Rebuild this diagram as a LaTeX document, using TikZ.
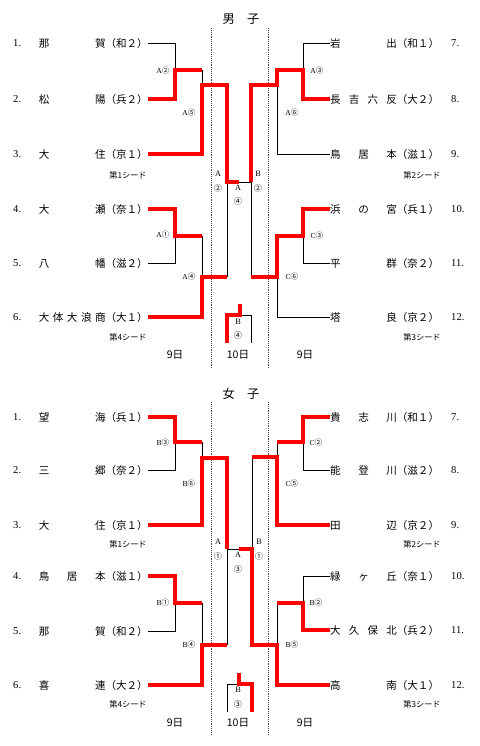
\documentclass[tikz,border=0pt]{standalone}
\usepackage{fontspec}
\setmainfont{Liberation Serif}
\newfontfamily\jp{Noto Sans CJK JP}
\newcommand{\jname}[1]{\makebox[2cm][s]{#1}}

\begin{document}
\begin{tikzpicture}[x=0.03cm,y=-0.03cm,
  win/.style={red,line width=3.3pt},
  lose/.style={line width=0.8pt},
  entl/.style={anchor=east,inner sep=0pt,font=\jp\fontsize{9}{9}\selectfont},
  entr/.style={anchor=west,inner sep=0pt,font=\jp\fontsize{9}{9}\selectfont},
  num/.style={anchor=west,inner sep=0pt,font=\fontsize{9}{9}\selectfont},
  mlab/.style={inner sep=0pt,font=\fontsize{6.5}{6.5}\selectfont},
  clab/.style={inner sep=0pt,align=center,font=\fontsize{7}{12.5}\selectfont},
  seed/.style={inner sep=0pt,font=\jp\fontsize{7}{7}\selectfont},
  day/.style={inner sep=0pt,font=\jp\fontsize{9}{9}\selectfont},
  ttl/.style={inner sep=0pt,font=\jp\fontsize{10.5}{10.5}\selectfont},
  sep/.style={densely dotted,line width=0.6pt,black!70}]
  \useasboundingbox (0,0) rectangle (480,746);

  % boys
  \node[ttl] (mt) at (241,19) {男　子};
  \draw[sep] (211,28) -- (211,368);
  \draw[sep] (268,28) -- (268,368);

  \node[num] (mn1) at (13,43) {1.};
  \node[num] (mn2) at (13,99) {2.};
  \node[num] (mn3) at (13,154) {3.};
  \node[num] (mn4) at (13,209) {4.};
  \node[num] (mn5) at (13,263) {5.};
  \node[num] (mn6) at (13,317) {6.};
  \node[entl] (m1) at (148,43) {\jname{那 賀}（和２）};
  \node[entl] (m2) at (148,99) {\jname{松 陽}（兵２）};
  \node[entl] (m3) at (148,154) {\jname{大 住}（京１）};
  \node[entl] (m4) at (148,209) {\jname{大 瀬}（奈１）};
  \node[entl] (m5) at (148,263) {\jname{八 幡}（滋２）};
  \node[entl] (m6) at (148,317) {\jname{大 体 大 浪 商}（大１）};
  \node[entr] (m7) at (330,43) {\jname{岩 出}（和１）};
  \node[entr] (m8) at (330,99) {\jname{長 吉 六 反}（大２）};
  \node[entr] (m9) at (330,154) {\jname{鳥 居 本}（滋１）};
  \node[entr] (m10) at (330,209) {\jname{浜 の 宮}（兵１）};
  \node[entr] (m11) at (330,263) {\jname{平 群}（奈２）};
  \node[entr] (m12) at (330,317) {\jname{塔 良}（京２）};
  \node[num] (mn7) at (451,43) {7.};
  \node[num] (mn8) at (451,99) {8.};
  \node[num] (mn9) at (451,154) {9.};
  \node[num] (mn10) at (451,209) {10.};
  \node[num] (mn11) at (451,263) {11.};
  \node[num] (mn12) at (451,317) {12.};

  \coordinate (mA2) at (175,70);
  \coordinate (mA5t) at (202,70);
  \coordinate (mA5) at (202,85);
  \coordinate (mA1) at (175,236);
  \coordinate (mA4t) at (202,236);
  \coordinate (mA4) at (202,277);
  \coordinate (mL) at (227,182);
  \coordinate (mM) at (239,182);
  \coordinate (mR) at (251,182);
  \coordinate (mLs) at (227,277);
  \coordinate (mRs) at (251,277);
  \coordinate (mA3) at (303,70);
  \coordinate (mA6t) at (277,70);
  \coordinate (mA6) at (277,85);
  \coordinate (mC3) at (303,236);
  \coordinate (mC6t) at (277,236);
  \coordinate (mC6) at (277,277);
  \coordinate (m3t) at (240,304);
  \coordinate (m3j) at (240,315);
  \coordinate (m3l) at (227,343);
  \coordinate (m3r) at (251,343);

  \draw[lose] (m1.east) -| (mA2);
  \draw[lose] (mA5t) -- (mA5);
  \draw[lose] (m5.east) -| (mA1);
  \draw[lose] (mA4t) -- (mA4);
  \draw[lose] (mLs) -- (mL);
  \draw[lose] (mM) -- (mR);
  \draw[lose] (m7.west) -| (mA3);
  \draw[lose] (m9.west) -| (mA6);
  \draw[lose] (m11.west) -| (mC3);
  \draw[lose] (m12.west) -| (mC6);
  \draw[lose] (mRs) -- (mR);
  \draw[lose] (m3j) -| (m3r);
  \draw[win] (m2.east) -| (mA2) -- (mA5t);
  \draw[win] (m3.east) -| (mA5) -| (mL) -- (mM);
  \draw[win] (m4.east) -| (mA1) -- (mA4t);
  \draw[win] (m6.east) -| (mA4) -- (mLs);
  \draw[win] (m8.west) -| (mA3) -- (mA6t) -- (mA6) -| (mR);
  \draw[win] (m10.west) -| (mC3) -- (mC6t) -- (mC6) -- (mRs);
  \draw[win] (m3t) -- (m3j) -| (m3l);

  \node[mlab] (lmA2) at (163,71) {A{\jp ②}};
  \node[mlab] (lmA5) at (189,113) {A{\jp ⑤}};
  \node[mlab] (lmA1) at (163,235) {A{\jp ①}};
  \node[mlab] (lmA4) at (189,277) {A{\jp ④}};
  \node[mlab] (lmA3) at (317,71) {A{\jp ③}};
  \node[mlab] (lmA6) at (292,113) {A{\jp ⑥}};
  \node[mlab] (lmC3) at (317,236) {C{\jp ③}};
  \node[mlab] (lmC6) at (292,277) {C{\jp ⑥}};
  \node[clab] (cmA2) at (218,181.5) {A\\{\jp ②}};
  \node[clab] (cmB2) at (258,181.5) {B\\{\jp ②}};
  \node[clab] (cmA4) at (238,195) {A\\{\jp ④}};
  \node[clab] (cmB4) at (238,329) {B\\{\jp ④}};

  \node[seed] (ms1) at (128,175) {第1シード};
  \node[seed] (ms2) at (422,175) {第2シード};
  \node[seed] (ms4) at (128,337) {第4シード};
  \node[seed] (ms3) at (422,337) {第3シード};
  \node[day] (md1) at (175,355) {9日};
  \node[day] (md2) at (238,355) {10日};
  \node[day] (md3) at (305,355) {9日};

  % girls
  \node[ttl] (wt) at (241,394) {女　子};
  \draw[sep] (211,402) -- (211,735);
  \draw[sep] (268,402) -- (268,735);

  \node[num] (wn1) at (13,417) {1.};
  \node[num] (wn2) at (13,470) {2.};
  \node[num] (wn3) at (13,525) {3.};
  \node[num] (wn4) at (13,576) {4.};
  \node[num] (wn5) at (13,631) {5.};
  \node[num] (wn6) at (13,685) {6.};
  \node[entl] (w1) at (148,417) {\jname{望 海}（兵１）};
  \node[entl] (w2) at (148,470) {\jname{三 郷}（奈２）};
  \node[entl] (w3) at (148,525) {\jname{大 住}（京１）};
  \node[entl] (w4) at (148,576) {\jname{鳥 居 本}（滋１）};
  \node[entl] (w5) at (148,631) {\jname{那 賀}（和２）};
  \node[entl] (w6) at (148,685) {\jname{喜 連}（大２）};
  \node[entr] (w7) at (330,417) {\jname{貴 志 川}（和１）};
  \node[entr] (w8) at (330,470) {\jname{能 登 川}（滋２）};
  \node[entr] (w9) at (330,525) {\jname{田 辺}（京２）};
  \node[entr] (w10) at (330,576) {\jname{緑 ヶ 丘}（奈１）};
  \node[entr] (w11) at (330,630) {\jname{大 久 保 北}（兵２）};
  \node[entr] (w12) at (330,685) {\jname{高 南}（大１）};
  \node[num] (wn7) at (451,417) {7.};
  \node[num] (wn8) at (451,470) {8.};
  \node[num] (wn9) at (451,525) {9.};
  \node[num] (wn10) at (451,576) {10.};
  \node[num] (wn11) at (451,630) {11.};
  \node[num] (wn12) at (451,685) {12.};

  \coordinate (wB3) at (175,442);
  \coordinate (wB6t) at (202,442);
  \coordinate (wB6) at (202,458);
  \coordinate (wB1) at (175,603);
  \coordinate (wB4t) at (202,603);
  \coordinate (wB4) at (202,645);
  \coordinate (wL) at (227,549);
  \coordinate (wM) at (239,549);
  \coordinate (wR) at (252,549);
  \coordinate (wLs) at (227,645);
  \coordinate (wRs) at (252,457);
  \coordinate (wC2) at (303,442);
  \coordinate (wC5t) at (277,442);
  \coordinate (wC5) at (277,457);
  \coordinate (wB2) at (303,603);
  \coordinate (wB5t) at (277,603);
  \coordinate (wB5) at (277,645);
  \coordinate (w3t) at (239,673);
  \coordinate (w3j) at (239,684);
  \coordinate (w3l) at (227,712);
  \coordinate (w3r) at (252,712);

  \draw[lose] (w2.east) -| (wB3);
  \draw[lose] (wB6t) -- (wB6);
  \draw[lose] (w5.east) -| (wB1);
  \draw[lose] (wB4t) -- (wB4);
  \draw[lose] (wLs) -- (wL) -- (wM);
  \draw[lose] (w8.west) -| (wC2);
  \draw[lose] (wC5t) -- (wC5);
  \draw[lose] (wRs) -- (wR);
  \draw[lose] (w10.west) -| (wB2);
  \draw[lose] (wB5t) -- (wB5);
  \draw[lose] (w3j) -| (w3l);
  \draw[win] (w1.east) -| (wB3) -- (wB6t);
  \draw[win] (w3.east) -| (wB6) -| (wL);
  \draw[win] (w4.east) -| (wB1) -- (wB4t);
  \draw[win] (w6.east) -| (wB4) -- (wLs);
  \draw[win] (w7.west) -| (wC2) -- (wC5t);
  \draw[win] (w9.west) -| (wC5) -- (wRs);
  \draw[win] (w11.west) -| (wB2) -- (wB5t);
  \draw[win] (w12.west) -| (wB5) -| (wR) -- (wM);
  \draw[win] (w3t) -- (w3j) -| (w3r);

  \node[mlab] (lwB3) at (163,443) {B{\jp ③}};
  \node[mlab] (lwB6) at (189,484) {B{\jp ⑥}};
  \node[mlab] (lwB1) at (163,603) {B{\jp ①}};
  \node[mlab] (lwB4) at (189,645) {B{\jp ④}};
  \node[mlab] (lwC2) at (316,443) {C{\jp ②}};
  \node[mlab] (lwC5) at (292,484) {C{\jp ⑤}};
  \node[mlab] (lwB2) at (316,603) {B{\jp ②}};
  \node[mlab] (lwB5) at (292,645) {B{\jp ⑤}};
  \node[clab] (cwA1) at (218,549.5) {A\\{\jp ①}};
  \node[clab] (cwB1) at (259,549.5) {B\\{\jp ①}};
  \node[clab] (cwA3) at (238,562.5) {A\\{\jp ③}};
  \node[clab] (cwB3) at (238,697.5) {B\\{\jp ③}};

  \node[seed] (ws1) at (128,544) {第1シード};
  \node[seed] (ws2) at (422,544) {第2シード};
  \node[seed] (ws4) at (128,704) {第4シード};
  \node[seed] (ws3) at (422,704) {第3シード};
  \node[day] (wd1) at (175,723) {9日};
  \node[day] (wd2) at (238,723) {10日};
  \node[day] (wd3) at (305,723) {9日};
\end{tikzpicture}
\end{document}
